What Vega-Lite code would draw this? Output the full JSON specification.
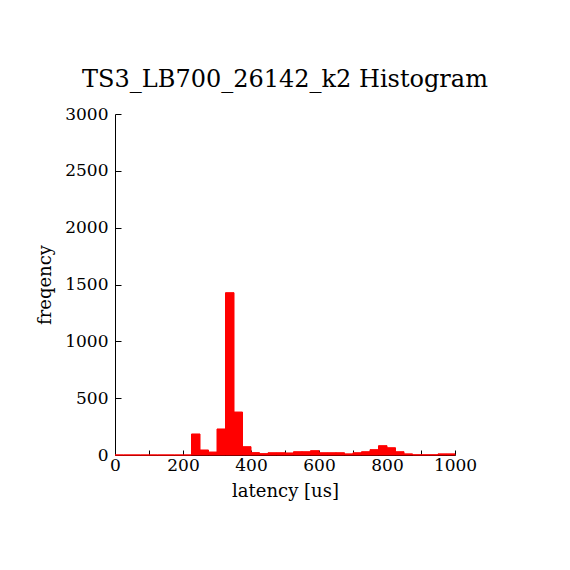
{
  "$schema": "https://vega.github.io/schema/vega-lite/v6.json",
  "width": 340,
  "height": 341,
  "autosize": "none",
  "padding": {"left": 115, "top": 114, "right": 115, "bottom": 115},
  "background": "white",
  "title": {
    "text": "TS3_LB700_26142_k2 Histogram",
    "font": "DejaVu Serif",
    "fontSize": 24,
    "fontWeight": "normal",
    "color": "black",
    "offset": 13
  },
  "data": {
    "values": [
      {"start": 0, "end": 25, "count": 0},
      {"start": 25, "end": 50, "count": 0},
      {"start": 50, "end": 75, "count": 0},
      {"start": 75, "end": 100, "count": 0},
      {"start": 100, "end": 125, "count": 0},
      {"start": 125, "end": 150, "count": 0},
      {"start": 150, "end": 175, "count": 0},
      {"start": 175, "end": 200, "count": 0},
      {"start": 200, "end": 225, "count": 0},
      {"start": 225, "end": 250, "count": 185},
      {"start": 250, "end": 275, "count": 44},
      {"start": 275, "end": 300, "count": 26},
      {"start": 300, "end": 325, "count": 229},
      {"start": 325, "end": 350, "count": 1428},
      {"start": 350, "end": 375, "count": 378},
      {"start": 375, "end": 400, "count": 73},
      {"start": 400, "end": 425, "count": 21},
      {"start": 425, "end": 450, "count": 12},
      {"start": 450, "end": 475, "count": 20},
      {"start": 475, "end": 500, "count": 20},
      {"start": 500, "end": 525, "count": 18},
      {"start": 525, "end": 550, "count": 29},
      {"start": 550, "end": 575, "count": 29},
      {"start": 575, "end": 600, "count": 38},
      {"start": 600, "end": 625, "count": 20},
      {"start": 625, "end": 650, "count": 20},
      {"start": 650, "end": 675, "count": 20},
      {"start": 675, "end": 700, "count": 10},
      {"start": 700, "end": 725, "count": 20},
      {"start": 725, "end": 750, "count": 29},
      {"start": 750, "end": 775, "count": 47},
      {"start": 775, "end": 800, "count": 82},
      {"start": 800, "end": 825, "count": 64},
      {"start": 825, "end": 850, "count": 29},
      {"start": 850, "end": 875, "count": 10},
      {"start": 875, "end": 900, "count": 2},
      {"start": 900, "end": 925, "count": 2},
      {"start": 925, "end": 950, "count": 2},
      {"start": 950, "end": 975, "count": 10},
      {"start": 975, "end": 1000, "count": 10}
    ]
  },
  "mark": {"type": "rect", "color": "#ff0000", "stroke": "#ff0000", "strokeWidth": 1},
  "encoding": {
    "x": {
      "field": "start",
      "type": "quantitative",
      "scale": {"domain": [0, 1000], "nice": false},
      "axis": {
        "values": [0, 100, 200, 300, 400, 500, 600, 700, 800, 900, 1000],
        "labelExpr": "datum.value % 200 == 0 ? datum.label : ''",
        "format": "d",
        "tickSize": -5,
        "labelPadding": 7,
        "grid": false,
        "domainColor": "black",
        "tickColor": "black",
        "labelFont": "DejaVu Serif",
        "labelFontSize": 17,
        "labelColor": "black",
        "labelFlush": false,
        "title": "latency [us]",
        "titleFont": "DejaVu Serif",
        "titleFontSize": 18,
        "titleFontWeight": "normal",
        "titleColor": "black",
        "titlePadding": 9
      }
    },
    "x2": {"field": "end"},
    "y": {
      "field": "count",
      "type": "quantitative",
      "scale": {"domain": [0, 3000], "nice": false},
      "axis": {
        "values": [0, 500, 1000, 1500, 2000, 2500, 3000],
        "format": "d",
        "tickSize": -6,
        "labelPadding": 13,
        "grid": false,
        "domainColor": "black",
        "tickColor": "black",
        "labelFont": "DejaVu Serif",
        "labelFontSize": 17,
        "labelColor": "black",
        "labelFlush": false,
        "title": "freqency",
        "titleFont": "DejaVu Serif",
        "titleFontSize": 18,
        "titleFontWeight": "normal",
        "titleColor": "black",
        "titlePadding": 10
      }
    },
    "y2": {"datum": 0}
  },
  "config": {"view": {"stroke": null}}
}
